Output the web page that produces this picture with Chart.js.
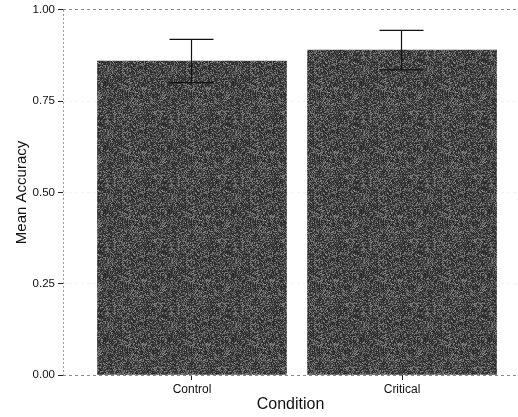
<!DOCTYPE html>
<html>
<head>
<meta charset="utf-8">
<script src="https://cdn.jsdelivr.net/npm/chart.js@4"></script>
<style>
  html, body { margin: 0; padding: 0; background: #fff; }
  #wrap { width: 518px; height: 417px; }
</style>
</head>
<body>
<div id="wrap"><canvas id="myChart"></canvas></div>
<script>
// Dữ liệu
var categories = ['Control', 'Critical'];
var meanAccuracy = [0.86, 0.89];
var errorSize = [0.059, 0.054];
var yTicks = [0, 0.25, 0.5, 0.75, 1];

// texture xám cho cột (chỉ là kiểu hiển thị)
function makeTexture() {
    var c = document.createElement('canvas');
    c.width = 64; c.height = 64;
    var g = c.getContext('2d');
    var img = g.createImageData(64, 64);
    for (var i = 0; i < 64 * 64; i++) {
        var h = Math.sin(i * 12.9898 + (i % 7) * 78.233) * 43758.5453;
        h = h - Math.floor(h);
        var v = 40 + Math.floor(h * h * 100);
        img.data[i * 4] = v; img.data[i * 4 + 1] = v; img.data[i * 4 + 2] = v; img.data[i * 4 + 3] = 255;
    }
    g.putImageData(img, 0, 0);
    return g.createPattern(c, 'repeat');
}

var points = categories.map(function (c, i) { return { x: i + 1, y: meanAccuracy[i] }; });

var errorBars = {
    id: 'errorBars',
    afterDatasetsDraw: function (chart) {
        var ctx = chart.ctx, xs = chart.scales.x, ys = chart.scales.y, area = chart.chartArea;
        ctx.save();
        // trục y dạng chấm
        ctx.strokeStyle = '#9a9a9a';
        ctx.lineWidth = 1;
        ctx.setLineDash([2, 2]);
        ctx.beginPath();
        ctx.moveTo(area.left + 0.5, area.top);
        ctx.lineTo(area.left + 0.5, area.bottom);
        ctx.stroke();
        ctx.setLineDash([]);
        ctx.strokeStyle = '#111';
        ctx.lineWidth = 1.2;
        meanAccuracy.forEach(function (m, i) {
            var x = Math.round(xs.getPixelForValue(i + 1)) - 0.5;
            var yt = ys.getPixelForValue(m + errorSize[i]);
            var yb = ys.getPixelForValue(m - errorSize[i]);
            ctx.beginPath();
            ctx.moveTo(x, yt); ctx.lineTo(x, yb);
            ctx.moveTo(x - 22, yt); ctx.lineTo(x + 22, yt);
            ctx.moveTo(x - 22, yb); ctx.lineTo(x + 22, yb);
            ctx.stroke();
        });
        ctx.restore();
    }
};

var ctx = document.getElementById('myChart').getContext('2d');
var myChart = new Chart(ctx, {
    type: 'bar',
    data: {
        datasets: [{
            data: points,
            backgroundColor: makeTexture(),
            borderWidth: 0,
            barThickness: 189
        }]
    },
    options: {
        responsive: true,
        maintainAspectRatio: false,
        animation: false,
        layout: { padding: { top: 9, right: 0, left: 0, bottom: 0 } },
        plugins: { legend: { display: false }, tooltip: { enabled: false } },
        scales: {
            x: {
                type: 'linear',
                offset: false,
                min: 0.386,
                max: 2.552,
                afterFit: function (s) { s.height = 42; },
                afterBuildTicks: function (s) { s.ticks = categories.map(function (c, i) { return { value: i + 1 }; }); },
                ticks: {
                    callback: function (v) { return categories[v - 1]; },
                    font: { family: 'Liberation Sans', size: 12 },
                    color: '#111',
                    padding: 2,
                    maxRotation: 0
                },
                grid: { offset: false, drawOnChartArea: false, drawTicks: true, tickLength: 5, tickColor: '#222' },
                border: { display: false },
                title: {
                    display: true,
                    text: 'Condition',
                    font: { family: 'Liberation Sans', size: 16 },
                    color: '#111',
                    padding: { top: 2.5, bottom: 2.5 }
                }
            },
            y: {
                min: 0,
                max: 1,
                afterFit: function (s) { s.width = 63; },
                afterBuildTicks: function (s) { s.ticks = yTicks.map(function (v) { return { value: v }; }); },
                ticks: {
                    callback: function (v) { return v.toFixed(2); },
                    font: { family: 'Liberation Sans', size: 11.5 },
                    color: '#111',
                    padding: 3
                },
                grid: {
                    color: function (c) {
                        var v = c.tick ? c.tick.value : -1;
                        return (v === 0 || v === 1) ? '#8a8a8a' : 'rgba(0,0,0,0.05)';
                    },
                    tickLength: 5,
                    tickColor: '#222'
                },
                border: { display: false, dash: [3, 3] },
                title: {
                    display: true,
                    text: 'Mean Accuracy',
                    font: { family: 'Liberation Sans', size: 15 },
                    color: '#111',
                    padding: { top: 12.5, bottom: 4 }
                }
            }
        }
    },
    plugins: [errorBars]
});
</script>
</body>
</html>
